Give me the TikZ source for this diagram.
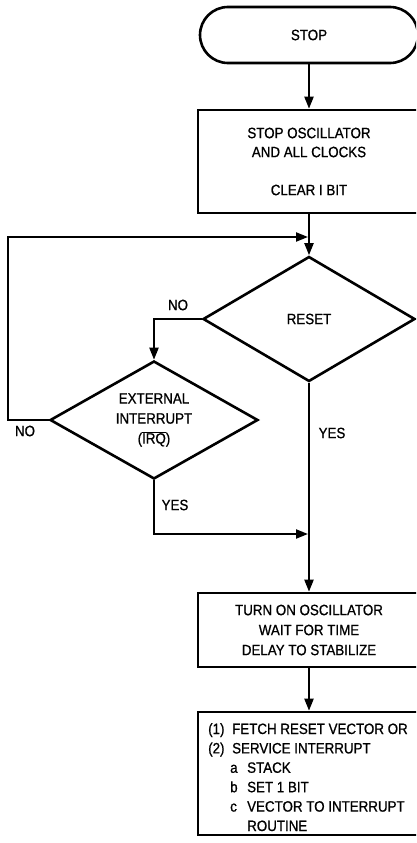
\documentclass[tikz,border=0pt]{standalone}
\usepackage{fontspec}
\setmainfont{Liberation Sans}[FakeStretch=0.89,FakeBold=0.8]
\usetikzlibrary{shapes.geometric,arrows.meta}
\begin{document}
\begin{tikzpicture}[x=1pt,y=-1pt,
  font=\fontsize{15}{19}\selectfont,
  shp/.style={draw, line width=2.6pt},
  boxnode/.style={shp, rectangle, minimum width=222pt, inner sep=0pt, align=center},
  dia/.style={shp, diamond, aspect=1.7, inner sep=0pt, align=center},
  conn/.style={line width=2.1pt},
  arr/.style={conn, -{Triangle[length=12pt,width=9pt]}},
  lbl/.style={inner sep=0pt}
]
\useasboundingbox (0,0) rectangle (416,843);
\clip (0,0) rectangle (416,843);
\fill[white] (0,0) rectangle (416,843);

% shapes
\node[shp, rectangle, rounded corners=28pt, minimum width=218pt, minimum height=56pt, inner sep=0pt] (stop) at (309,35) {STOP};
\node[boxnode, minimum height=103pt] (box1) at (309,161.5) {STOP OSCILLATOR\\AND ALL CLOCKS\\[19pt]CLEAR I BIT};
\node[dia, minimum width=212pt, minimum height=125pt] (reset) at (309,319) {RESET};
\node[dia, minimum width=208pt, minimum height=118pt, font=\fontsize{15}{20}\selectfont] (irq) at (154,420) {EXTERNAL\\INTERRUPT\\(\(\overline{\mbox{IRQ}}\))};
\node[boxnode, minimum height=74pt, font=\fontsize{15}{20}\selectfont] (box2) at (309,630) {TURN ON OSCILLATOR\\WAIT FOR TIME\\DELAY TO STABILIZE};
\node[boxnode, minimum height=123pt] (box3) at (309,773.5) {};
\node[anchor=base west, align=left, inner sep=0pt, font=\fontsize{15}{19.4}\selectfont] (t3) at (208,831) {%
\makebox[24pt][l]{(1)}FETCH RESET VECTOR OR\\
\makebox[24pt][l]{(2)}SERVICE INTERRUPT\\
\hspace*{22pt}\makebox[17pt][l]{a}STACK\\
\hspace*{22pt}\makebox[17pt][l]{b}SET 1 BIT\\
\hspace*{22pt}\makebox[17pt][l]{c}VECTOR TO INTERRUPT\\
\hspace*{39pt}ROUTINE};

% junctions
\coordinate (j1) at (309,237);
\coordinate (lp) at (8,420);
\coordinate (j2) at (309,534);

% connectors
\draw[arr] (stop) -- (box1);
\draw[arr] (box1) -- (reset);
\draw[arr, shorten >=1pt] (irq.west) -- (lp) |- (j1);
\draw[arr] (reset.west) -| (irq.north);
\draw[arr, shorten >=1pt] (irq.south) |- (j2);
\draw[arr] (reset) -- (box2);
\draw[arr] (box2) -- (box3);

% labels
\node[lbl] (no1) at (178,305) {NO};
\node[lbl] (no2) at (25,431) {NO};
\node[lbl] (yes1) at (175,505) {YES};
\node[lbl] (yes2) at (332,433) {YES};
\end{tikzpicture}
\end{document}
